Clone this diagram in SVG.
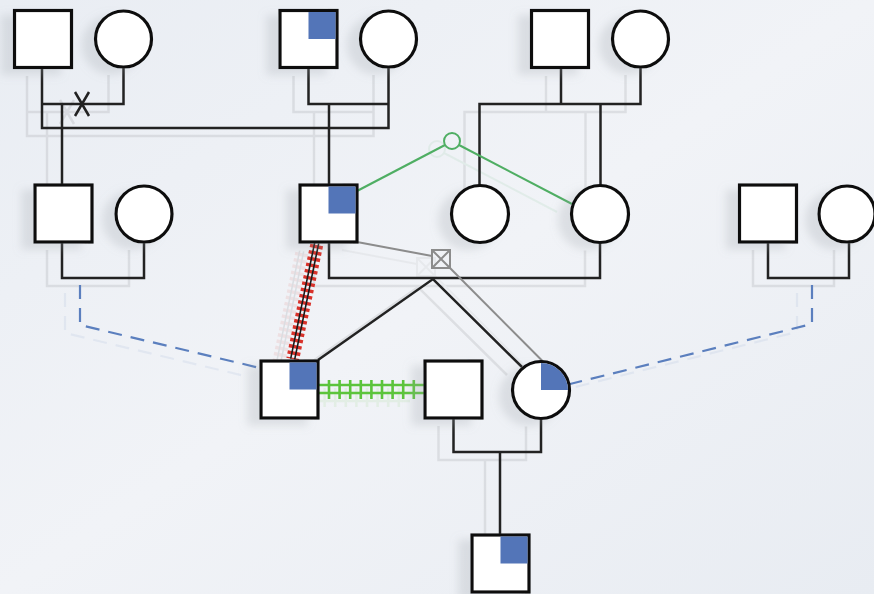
<svg xmlns="http://www.w3.org/2000/svg" xmlns:xlink="http://www.w3.org/1999/xlink" width="874" height="594" viewBox="0 0 874 594">
<defs>
<linearGradient id="bg" x1="0" y1="0" x2="1" y2="1">
<stop offset="0" stop-color="#e9edf3"/>
<stop offset="0.5" stop-color="#f1f3f7"/>
<stop offset="1" stop-color="#e8ecf2"/>
</linearGradient>
<filter id="sh" x="-40%" y="-40%" width="180%" height="180%">
<feDropShadow dx="-12" dy="6" stdDeviation="4" flood-color="#9aa0a8" flood-opacity="0.25"/>
</filter>
<style>
.node rect, .node circle { fill:#ffffff; stroke:#111; stroke-width:3.2; }
.node .aff { fill:#5274b8; stroke:none; }
.node { filter:url(#sh); }
.ln { fill:none; stroke:#222; stroke-width:2.5; }
.gray { fill:none; stroke:#8c8c8c; stroke-width:2; }
.grn { fill:none; stroke:#4fae63; stroke-width:2; }
.hatchg { fill:none; stroke:#5cc43c; stroke-width:2.6; }
.dash { fill:none; stroke:#5b7fbe; stroke-width:2.2; stroke-dasharray:14 9; }
</style>
</defs>
<rect width="874" height="594" fill="url(#bg)"/>

<use xlink:href="#connectors" href="#connectors" transform="translate(-15,8)" opacity="0.09"/>

<g id="connectors">
<path class="ln" d="M42,68 V128 H388.5 V67"/>
<path class="ln" d="M123.5,67 V104 H42"/>
<path class="ln" d="M75,92 L89,116 M89,92 L75,116"/>
<path class="ln" d="M62,104 V185"/>
<path class="ln" d="M308.5,68 V104 H388.5"/>
<path class="ln" d="M329,104 V185"/>
<path class="ln" d="M561,68 V104"/>
<path class="ln" d="M640.5,67 V104 H479.5 V185.5"/>
<path class="ln" d="M600.5,104 V185.5"/>
<path class="ln" d="M62,242 V278 H144 V242"/>
<path class="ln" d="M329,242 V278 H600 V242.5"/>
<path class="ln" d="M318,360 L433,279 L522,367"/>
<path class="ln" d="M768,242 V278 H849 V242"/>
<path class="ln" d="M453.5,418 V452 H541 V418.5"/>
<path class="ln" d="M500,452 V535"/>
<path class="gray" d="M357,242 L432,256"/>
<rect class="gray" x="432" y="250" width="18" height="18"/>
<path class="gray" d="M432,250 L450,268 M450,250 L432,268"/>
<path class="gray" d="M450,268 L543,361.5"/>
<path class="grn" d="M357,191 L445,145"/>
<path class="grn" d="M459,145 L572,204"/>
<circle class="grn" cx="452" cy="141" r="8" fill="#f4f7f5"/>
<path d="M316.7,245 L292.7,359" fill="none" stroke="#d8322a" stroke-width="13" stroke-dasharray="3.4 3"/>
<path d="M318.7,243.4 L294.7,359.4 M314.7,242.6 L290.7,358.6" fill="none" stroke="#1a1a1a" stroke-width="1.6"/>
<path class="hatchg" d="M318,385 H425 M318,393 H425"/>
<path class="hatchg" stroke-width="2.2" d="M329,380 V399 M339.6,380 V399 M350.2,380 V399 M360.8,380 V399 M371.4,380 V399 M382,380 V399 M392.6,380 V399 M403.2,380 V399 M413.8,380 V399"/>
<path class="dash" d="M80,285 V325 L260,368"/>
<path class="dash" d="M812,285 V324 L570,384"/>
</g>

<g id="n1" class="node"><rect x="14.5" y="10.5" width="57" height="57"/></g>
<g id="n2" class="node"><circle cx="123.5" cy="39" r="28"/></g>
<g id="n3" class="node"><rect x="280" y="10.5" width="57" height="57"/><rect class="aff" x="308.5" y="12" width="27" height="27"/></g>
<g id="n4" class="node"><circle cx="388.5" cy="39" r="28"/></g>
<g id="n5" class="node"><rect x="531.5" y="10.5" width="57" height="57"/></g>
<g id="n6" class="node"><circle cx="640.5" cy="39" r="28"/></g>

<g id="n7" class="node"><rect x="35" y="185" width="57" height="57"/></g>
<g id="n8" class="node"><circle cx="144" cy="214" r="28"/></g>
<g id="n9" class="node"><rect x="300" y="185" width="57" height="57"/><rect class="aff" x="328.5" y="186.5" width="27" height="27"/></g>
<g id="n10" class="node"><circle cx="480" cy="214" r="28.5"/></g>
<g id="n11" class="node"><circle cx="600" cy="214" r="28.5"/></g>
<g id="n12" class="node"><rect x="739.5" y="185" width="57" height="57"/></g>
<g id="n13" class="node"><circle cx="847" cy="214" r="28"/></g>

<g id="n14" class="node"><rect x="261" y="361" width="57" height="57"/><rect class="aff" x="289.5" y="362.5" width="27" height="27"/></g>
<g id="n15" class="node"><rect x="425" y="361" width="57" height="57"/></g>
<g id="n16" class="node"><circle cx="541" cy="390" r="28.5"/><path class="aff" d="M541,390 V363 A27,27 0 0 1 568,390 Z"/></g>

<g id="n17" class="node"><rect x="472" y="535" width="57" height="57"/><rect class="aff" x="500.5" y="536.5" width="27" height="27"/></g>
</svg>
